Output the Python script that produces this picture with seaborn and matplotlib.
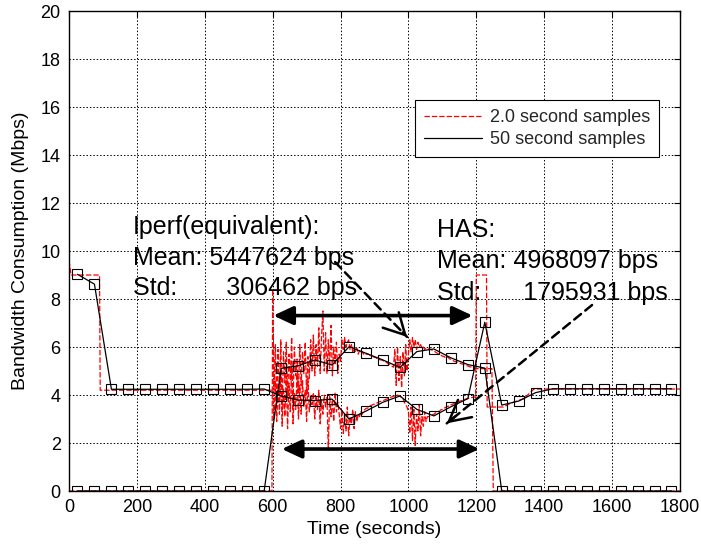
import numpy as np
import pandas as pd
import matplotlib
matplotlib.use('Agg')
import matplotlib.pyplot as plt
from matplotlib.lines import Line2D
import seaborn as sns

sns.set_theme(style='white')
plt.rcParams['font.family'] = ['Liberation Sans', 'DejaVu Sans']

# ---------------- data ----------------
# 50-second samples (centre of each 50 s window)
t50 = list(range(25, 1800, 50))
has50 = [9.03, 8.62, 4.24, 4.24, 4.24, 4.24, 4.24, 4.24, 4.24, 4.24, 4.24, 4.25,
         3.96, 3.79, 3.77, 3.83, 3.00, 3.33, 3.70, 3.96, 3.40, 3.13, 3.51, 3.85,
         7.03, 3.58, 3.75, 4.10, 4.26, 4.26, 4.26, 4.26, 4.26, 4.26, 4.26, 4.26]
iperf50 = [0, 0, 0, 0, 0, 0, 0, 0, 0, 0, 0, 0,
           5.11, 5.22, 5.46, 5.25, 6.01, 5.74, 5.46, 5.15, 5.81, 5.92, 5.55, 5.27,
           5.12, 0, 0, 0, 0, 0, 0, 0, 0, 0, 0, 0]

# 2.0-second samples: steady parts as breakpoints, busy part (600-1196 s) every 4 s
has2_head_t = [0, 6, 90, 92, 598]
has2_head_v = [9.6, 9.0, 9.0, 4.2, 4.2]
has2_mid_v = [
    4.2, 3.0, 4.6, 2.9, 4.4, 3.2, 5.0, 2.7, 4.3, 3.1,
    4.8, 2.6, 4.5, 3.3, 5.2, 2.8, 4.1, 3.4, 4.9, 3.0,
    4.4, 3.2, 4.6, 3.5, 4.2, 2.9, 4.7, 3.3, 4.0, 3.6,
    4.1, 3.0, 3.9, 3.4, 4.2, 2.8, 3.8, 3.2, 4.0, 3.5,
    3.9, 1.7, 4.0, 3.1, 3.8, 2.9, 4.1, 3.3, 3.7, 3.2,
    2.6, 3.4, 2.4, 3.2, 2.5, 3.5, 2.3, 3.1, 2.8, 3.4,
    2.6, 3.3, 2.9, 3.2, 3.1, 3.3, 3.2, 3.35, 3.4, 3.45,
    3.45, 3.5, 3.56, 3.57, 3.61, 3.62, 3.66, 3.67, 3.7, 3.73,
    3.74, 3.77, 3.78, 3.81, 3.83, 3.85, 3.88, 3.91, 3.92, 3.95,
    3.96, 3.98, 4.0, 3.97, 3.95, 3.9, 3.85, 3.7, 3.6, 3.5,
    3.3, 2.4, 3.5, 2.1, 3.4, 1.9, 3.2, 2.5, 3.6, 2.3, 3.1, 2.7, 3.3, 2.9, 3.1,
    3.1, 3.13, 3.14, 3.19, 3.2, 3.26, 3.27, 3.31, 3.33, 3.39,
    3.4, 3.45, 3.47, 3.5, 3.53, 3.54, 3.59, 3.6, 3.63, 3.64,
    3.68, 3.71, 3.72, 3.75, 3.76, 3.79, 3.8, 3.83, 3.84, 3.86,
    3.87, 3.89, 3.9, 3.91, 3.92]
has2_tail_t = [1198, 1200, 1230, 1232, 1280, 1300, 1340, 1370, 1800]
has2_tail_v = [3.9, 9.0, 9.0, 3.5, 3.5, 3.65, 3.85, 4.25, 4.25]

iperf2_head_t = [0, 598]
iperf2_head_v = [0, 0]
iperf2_mid_v = [
    8.4, 4.2, 6.1, 3.6, 5.9, 4.0, 6.3, 3.4, 5.8, 4.5,
    6.2, 3.9, 5.7, 4.6, 6.4, 3.5, 6.0, 4.8, 5.5, 4.1,
    6.1, 4.4, 5.8, 4.9, 6.2, 4.0, 5.6, 4.7, 6.3, 5.0,
    6.5, 4.8, 6.1, 5.2, 6.8, 4.9, 6.4, 7.5, 5.0, 6.6,
    4.9, 6.3, 5.1, 6.9, 4.8, 6.0, 5.3, 6.2, 4.9, 5.7,
    5.4, 6.3, 5.9, 6.4, 6.0, 6.2, 6.3, 5.9, 6.1, 5.8,
    6.0, 5.8, 5.95, 5.7, 5.85, 5.75, 5.8, 5.7, 5.75, 5.7,
    5.7, 5.69, 5.64, 5.63, 5.6, 5.57, 5.56, 5.51, 5.5, 5.47,
    5.46, 5.45, 5.4, 5.39, 5.35, 5.31, 5.28, 5.26, 5.2, 5.16,
    5.9, 4.4, 6.0, 4.6, 5.6, 4.3, 5.8, 4.8, 6.1, 5.0,
    5.7, 6.3, 5.8, 6.4, 6.0, 6.3, 5.9, 6.2, 6.0, 6.1, 5.95, 6.0, 5.9, 5.95, 5.9,
    5.92, 5.91, 5.88, 5.86, 5.82, 5.79, 5.75, 5.71, 5.68, 5.66,
    5.62, 5.61, 5.57, 5.55, 5.6, 5.52, 5.49, 5.45, 5.43, 5.4,
    5.38, 5.37, 5.34, 5.33, 5.3, 5.29, 5.26, 5.25, 5.22, 5.21,
    5.18, 5.17, 5.15, 5.14, 5.12]
iperf2_tail_t = [1200, 1246, 1250, 1800]
iperf2_tail_v = [5.1, 5.1, 0, 0]

mid_t = list(range(600, 1200, 4))

xticks = list(range(0, 1801, 200))
yticks = list(range(0, 21, 2))

iperf_text = ["Iperf(equivalent):", "Mean: 5447624 bps", "Std:       306462 bps"]
has_text = ["HAS:", "Mean: 4968097 bps", "Std:      1795931 bps"]
legend_labels = ["2.0 second samples", "50 second samples"]

# ---------------- build frames ----------------
has2 = pd.DataFrame({"t": has2_head_t + mid_t + has2_tail_t,
                     "v": has2_head_v + has2_mid_v + has2_tail_v})
iperf2 = pd.DataFrame({"t": iperf2_head_t + mid_t + iperf2_tail_t,
                       "v": iperf2_head_v + iperf2_mid_v + iperf2_tail_v})
s50 = pd.DataFrame({"t": t50, "has": has50, "iperf": iperf50})

# ---------------- figure ----------------
fig = plt.figure(figsize=(7.01, 5.46), dpi=100)
ax = fig.add_axes([0.0984, 0.1007, 0.8716, 0.8791])

red_dash = (0, (4.3, 1.6))
sns.lineplot(data=has2, x="t", y="v", ax=ax, color="red", linewidth=0.9,
             linestyle=red_dash, estimator=None, sort=False)
sns.lineplot(data=iperf2, x="t", y="v", ax=ax, color="red", linewidth=0.9,
             linestyle=red_dash, estimator=None, sort=False)
for col in ["has", "iperf"]:
    sns.lineplot(data=s50, x="t", y=col, ax=ax, color="black", linewidth=0.9,
                 marker="s", markersize=7, markerfacecolor="none",
                 markeredgecolor="black", markeredgewidth=0.8,
                 estimator=None, sort=False)

ax.set_xlim(0, 1800)
ax.set_ylim(0, 20)
ax.set_xticks(xticks)
ax.set_yticks(yticks)
ax.grid(True, color="black", linestyle=(0, (1.5, 2.0)), linewidth=0.7)
ax.set_axisbelow(True)
for sp in ax.spines.values():
    sp.set_color("black")
    sp.set_linewidth(1.0)
ax.tick_params(axis="both", direction="in", length=4, width=0.8, colors="black",
               labelsize=13, top=True, right=True, pad=6)
ax.set_xlabel("Time (seconds)", fontsize=14, color="black", labelpad=3)
ax.set_ylabel("Bandwidth Consumption (Mbps)", fontsize=14, color="black", labelpad=8)

# annotation texts
for txt, y in zip(iperf_text, [10.73, 9.42, 8.15]):
    ax.text(188, y, txt, fontsize=18, color="black", va="baseline", ha="left")
for txt, y in zip(has_text, [10.58, 9.29, 7.96]):
    ax.text(1084, y, txt, fontsize=18, color="black", va="baseline", ha="left")

# double-headed arrows
dbl = dict(arrowstyle="<|-|>,head_length=0.6,head_width=0.28", color="black",
           linewidth=2.6, shrinkA=0, shrinkB=0, mutation_scale=20)
ax.annotate("", xy=(1189, 7.31), xytext=(602, 7.31), arrowprops=dbl)
ax.annotate("", xy=(1209, 1.75), xytext=(627, 1.75), arrowprops=dbl)

# dashed pointer arrows
def pointer(start, tip):
    ax.annotate("", xy=tip, xytext=start,
                arrowprops=dict(arrowstyle="-", color="black", linewidth=1.8,
                                linestyle=(0, (3.5, 2.2)), shrinkA=0, shrinkB=0))
    sx, sy = start
    tx, ty = tip
    back = (tx + (sx - tx) * 0.06, ty + (sy - ty) * 0.06)
    ax.annotate("", xy=tip, xytext=back,
                arrowprops=dict(arrowstyle="->,head_length=0.75,head_width=0.4",
                                color="black", linewidth=1.8, shrinkA=0, shrinkB=0,
                                mutation_scale=20))

pointer((784, 9.54), (996, 6.42))
pointer((1541, 7.75), (1113, 2.82))

# legend
handles = [Line2D([], [], color="red", linestyle=red_dash, linewidth=0.9),
           Line2D([], [], color="black", linewidth=0.9)]
leg = ax.legend(handles, legend_labels, loc="upper right",
                bbox_to_anchor=(0.966, 0.8146), borderaxespad=0, fontsize=13,
                frameon=True, fancybox=False, edgecolor="black", framealpha=1,
                handlelength=3.2, handletextpad=0.45, borderpad=0.5,
                labelspacing=0.3)
leg.get_frame().set_linewidth(0.8)

fig.savefig("out.png", dpi=100)
